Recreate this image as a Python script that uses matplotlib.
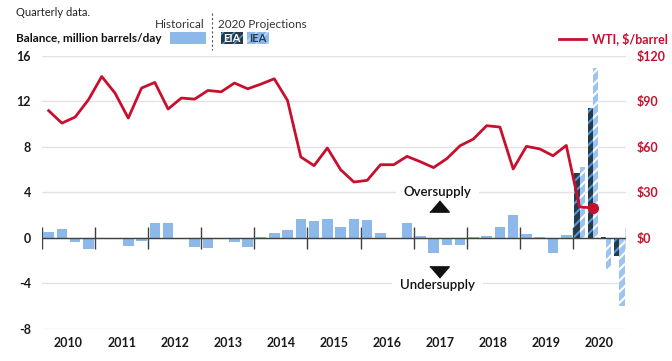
import matplotlib
matplotlib.use("Agg")
import matplotlib.pyplot as plt
from matplotlib.patches import Rectangle
from matplotlib.lines import Line2D
import numpy as np

plt.rcParams['font.family'] = ['Lato', 'DejaVu Sans']
plt.rcParams['hatch.linewidth'] = 1.5

# quarterly data, 2010Q1 .. 2019Q4 (million barrels/day)
years = list(range(2010, 2021))
balance_hist = [0.5, 0.8, -0.35, -0.95,
                -0.1, 0.0, -0.75, -0.25,
                1.35, 1.3, 0.0, -0.8,
                -0.9, -0.1, -0.4, -0.8,
                0.1, 0.45, 0.65, 1.7,
                1.45, 1.7, 1.0, 1.7,
                1.55, 0.4, 0.0, 1.35,
                0.2, -1.3, -0.65, -0.6,
                0.1, 0.2, 1.0, 2.05,
                0.3, 0.1, -1.3, 0.25]
# 2020 projections, Q1..Q4
balance_eia = [5.7, 11.4, 0.1, -1.55]
balance_iea = [6.2, 14.9, -2.7, -5.95]
# WTI, $/barrel, 2010Q1 .. 2020Q2
wti = [83.8, 75.6, 79.6, 91.0,
       106.3, 95.4, 78.9, 98.7,
       102.4, 84.9, 92.1, 91.4,
       97.1, 96.2, 102.0, 98.2,
       101.3, 104.8, 90.5, 53.3,
       47.6, 59.2, 44.9, 36.8,
       37.9, 48.2, 48.2, 53.7,
       50.2, 46.3, 52.2, 60.7,
       65.1, 73.9, 73.0, 45.4,
       60.3, 58.6, 54.1, 60.9,
       20.4, 19.7]
left_ticks = [-8, -4, 0, 4, 8, 12, 16]
right_ticks = [0, 30, 60, 90, 120]

BLUE = '#8DB9EA'
DARK = '#263A48'
STRIPE = '#4F97DF'
RED = '#C8102E'

W, H = 672, 361
fig = plt.figure(figsize=(W / 100, H / 100), dpi=100)


def fx(x):
    return x / W


def fy(y):
    return 1 - y / H


ax = fig.add_axes([fx(42), fy(329), (626 - 42) / W, (329 - 55.7) / H])
ax2 = ax.twinx()

n_hist = len(balance_hist)
x_hist = np.arange(n_hist) + 0.5
ax.bar(x_hist, balance_hist, width=0.8, color=BLUE, zorder=3)
x20 = np.arange(len(balance_eia)) + n_hist + 0.5
ax.bar(x20 - 0.2, balance_eia, width=0.4, facecolor=DARK, edgecolor=STRIPE,
       hatch='///', lw=0, zorder=3)
ax.bar(x20 + 0.2, balance_iea, width=0.4, facecolor='#9CC4EF', edgecolor='white',
       hatch='///', lw=0, zorder=3)

nq = 4 * len(years)
ax.set_xlim(0, nq)
ax.set_ylim(-8, 16)
ax.set_yticks(left_ticks)
ax.set_yticklabels([str(t) for t in left_ticks])
ax.grid(axis='y', color='#E2E2E2', lw=1, zorder=0)
ax.set_axisbelow(True)
ax.axhline(0, color='#404040', lw=1, zorder=4)
ax.vlines(np.arange(0, nq + 1, 4), -1, 1, color='#404040', lw=1, zorder=2)
ax.set_xticks(np.arange(len(years)) * 4 + 2)
ax.set_xticklabels([str(y) for y in years])
ax.tick_params(axis='x', length=0, pad=6, labelsize=9)
ax.tick_params(axis='y', length=0, pad=8, labelsize=9)
for lab in ax.get_xticklabels() + ax.get_yticklabels():
    lab.set_fontweight('bold')
    lab.set_color('#1A1A1A')
for s in ax.spines.values():
    s.set_visible(False)

x_wti = np.arange(len(wti)) + 0.5
ax2.plot(x_wti, wti, color=RED, lw=2.0, zorder=5)
ax2.plot(x_wti[-1], wti[-1], 'o', ms=7, color=RED, zorder=6)
ax2.set_ylim(-60, 120)
ax2.set_yticks(right_ticks)
ax2.set_yticklabels(['$' + str(t) for t in right_ticks])
ax2.tick_params(axis='y', length=0, pad=8, labelsize=9, labelcolor=RED)
for lab in ax2.get_yticklabels():
    lab.set_fontweight('bold')
for s in ax2.spines.values():
    s.set_visible(False)

# over/undersupply annotations
tri_up = [(-1, -0.58), (1, -0.58), (0, 0.58)]
tri_dn = [(-1, 0.58), (1, 0.58), (0, -0.58)]
ax.text(29.8, 4.0, 'Oversupply', ha='center', va='center', fontsize=9.5,
        fontweight='semibold', color='#111111', zorder=5,
        bbox=dict(boxstyle='square,pad=0.6', fc='white', ec='none'))
ax.text(29.8, -4.1, 'Undersupply', ha='center', va='center', fontsize=9.5,
        fontweight='semibold', color='#111111', zorder=5,
        bbox=dict(boxstyle='square,pad=0.6', fc='white', ec='none'))
ax.plot(29.9, 2.8, marker=tri_up, ms=14, color='#111111', zorder=5)
ax.plot(29.9, -3.0, marker=tri_dn, ms=14, color='#111111', zorder=5)

# header
plt.rcParams['hatch.linewidth'] = 1.0
fig.text(fx(16), fy(12), 'Quarterly data.', fontsize=8, color='#222222',
         ha='left', va='center')
fig.text(fx(16), fy(38), 'Balance, million barrels/day', fontsize=8.5,
         fontweight='bold', color='#111111', ha='left', va='center')
fig.text(fx(205), fy(24), 'Historical', fontsize=8.5, color='#333333',
         ha='right', va='center')
fig.add_artist(Rectangle((fx(170), fy(44)), 36 / W, 12 / H, facecolor=BLUE,
                         lw=0, transform=fig.transFigure))
fig.add_artist(Line2D([fx(212), fx(212)], [fy(13), fy(50)], color='#555555',
                      lw=0.8, dashes=(2, 2), transform=fig.transFigure))
fig.text(fx(218), fy(24), '2020 Projections', fontsize=8.5, color='#333333',
         ha='left', va='center')
fig.add_artist(Rectangle((fx(220.5), fy(44)), 22 / W, 12 / H, facecolor=DARK,
                         edgecolor=STRIPE, hatch='///', lw=0,
                         transform=fig.transFigure))
fig.text(fx(231.5), fy(38.5), 'EIA', fontsize=8, fontweight='bold',
         color='white', ha='center', va='center')
fig.add_artist(Rectangle((fx(247), fy(44)), 22 / W, 12 / H, facecolor='#8DB9EA',
                         edgecolor='#C9DEF6', hatch='///', lw=0,
                         transform=fig.transFigure))
fig.text(fx(258), fy(38.5), 'IEA', fontsize=8, fontweight='bold',
         color='#1F3B57', ha='center', va='center')
fig.add_artist(Line2D([fx(559), fx(586)], [fy(39), fy(39)], color=RED, lw=2,
                      transform=fig.transFigure))
fig.text(fx(592.5), fy(39), 'WTI, $/barrel', fontsize=9, fontweight='bold',
         color=RED, ha='left', va='center')

fig.savefig('out.png', dpi=100)
